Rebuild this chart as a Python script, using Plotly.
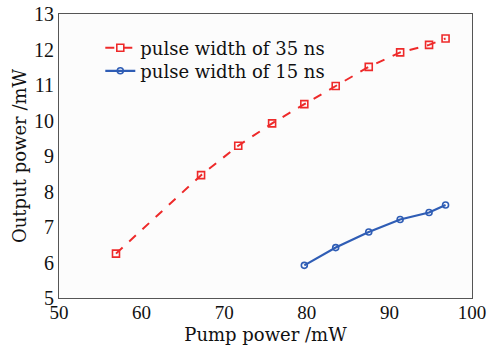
import plotly.graph_objects as go

pump_35 = [56.9, 67.2, 71.7, 75.8, 79.7, 83.5, 87.5, 91.3, 94.8, 96.8]
out_35 = [6.25, 8.46, 9.29, 9.92, 10.46, 10.97, 11.51, 11.92, 12.13, 12.31]
pump_15 = [79.7, 83.5, 87.5, 91.3, 94.8, 96.8]
out_15 = [5.92, 6.42, 6.86, 7.21, 7.41, 7.62]

x_ticks = [50, 60, 70, 80, 90, 100]
y_ticks = [5, 6, 7, 8, 9, 10, 11, 12, 13]

font_family = "DejaVu Serif"
tick_family = "Liberation Serif"
fs = 18

fig = go.Figure()
fig.add_trace(go.Scatter(
    x=pump_35, y=out_35, mode="lines+markers", name="pulse width of 35 ns",
    line=dict(color="#ee2a2a", width=2, dash="dash"),
    marker=dict(symbol="square-open", size=7, color="#ee2a2a", line=dict(width=1.6)),
    legend="legend",
))
fig.add_trace(go.Scatter(
    x=pump_15, y=out_15, mode="lines+markers", name="pulse width of 15 ns",
    line=dict(color="#2f5db5", width=2.2),
    marker=dict(symbol="circle-open", size=6, color="#2f5db5", line=dict(width=1.6)),
    legend="legend2",
))

leg_common = dict(x=0.10, xanchor="left", yanchor="middle",
                  bgcolor="rgba(0,0,0,0)", font=dict(size=fs, family=font_family),
                  itemwidth=30)

fig.update_layout(
    width=503, height=345,
    margin=dict(l=59, r=31, t=14, b=47),
    paper_bgcolor="white",
    plot_bgcolor="#fcfcfc",
    font=dict(family=font_family, size=fs, color="#111"),
    showlegend=True,
    legend=dict(y=0.880, **leg_common),
    legend2=dict(y=0.799, **leg_common),
    xaxis=dict(range=[50, 100], tickvals=x_ticks, ticks="", showgrid=False,
               zeroline=False, showline=True, linecolor="#555", linewidth=1.2,
               mirror=True, automargin=False, ticklabelstandoff=-3,
               tickfont=dict(family=tick_family, size=19),
               title=dict(text="Pump power /mW", standoff=12,
                          font=dict(family=font_family, size=fs))),
    yaxis=dict(range=[5, 13], tickvals=y_ticks, ticks="", showgrid=False,
               zeroline=False, showline=True, linecolor="#555", linewidth=1.2,
               mirror=True, automargin=False,
               tickfont=dict(family=tick_family, size=20),
               title=dict(text="Output power /mW", standoff=2,
                          font=dict(family=font_family, size=fs))),
)

fig.write_html("out.html")
